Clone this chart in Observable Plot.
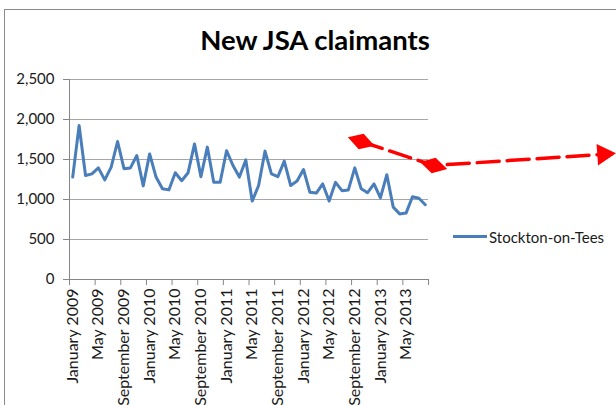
<!DOCTYPE html>
<html><head><meta charset="utf-8">
<script src="https://cdn.jsdelivr.net/npm/d3@7"></script>
<script src="https://cdn.jsdelivr.net/npm/@observablehq/plot@0.6"></script>
<style>
html,body{margin:0;padding:0;background:#fff;overflow:hidden;width:616px;height:405px;}
#wrap{position:relative;width:616px;height:405px;font-family:Lato,"Open Sans",sans-serif;}
#frame{position:absolute;left:4px;top:9px;width:700px;height:500px;border:1px solid #8a8a8a;box-sizing:border-box}
#title{position:absolute;left:0;width:630px;top:25px;text-align:center;font-weight:bold;font-size:27.5px;line-height:30px;color:#000}
#legline{position:absolute;left:453px;top:235px;width:34px;height:3px;background:#4a7ebb}
#legtext{position:absolute;left:489px;top:228px;font-size:15px;line-height:18px;color:#1a1a1a}
#chart{position:absolute;left:0;top:0}
</style></head>
<body><div id="wrap"><div id="frame"></div><div id="chart"></div><div id="title">New JSA claimants</div><div id="legline"></div><div id="legtext">Stockton-on-Tees</div></div>
<script>
// Monthly new JSA claimants, Stockton-on-Tees, January 2009 – August 2013
const values = [1280,1925,1300,1320,1395,1245,1405,1725,1385,1395,1550,1170,
                1570,1280,1135,1120,1335,1235,1335,1695,1285,1655,1215,1215,
                1610,1425,1280,1495,980,1175,1605,1320,1285,1480,1175,1230,
                1375,1090,1080,1195,980,1215,1110,1120,1395,1135,1085,1195,
                1020,1310,905,820,830,1035,1015,935];
const xTickLabels = ["January 2009","May 2009","September 2009","January 2010","May 2010","September 2010",
                     "January 2011","May 2011","September 2011","January 2012","May 2012","September 2012",
                     "January 2013","May 2013"];
const labelStep = 4;
const yTicks = [0,500,1000,1500,2000,2500];
const yTickLabels = ["0","500","1,000","1,500","2,000","2,500"];
// Red dashed annotation (in month-index / value space)
const arrowX = [45.5, 56.8, 84.6];
const arrowY = [1725, 1425, 1572];
const diamondRotate = [108, 104];
const headX = [83.3];
const headY = [1566];

const data = values.map((v, i) => ({i: i + 0.5, v}));
const arrow = arrowX.map((x, k) => ({x, y: arrowY[k]}));
const diamonds = arrow.slice(0, 2).map((d, k) => ({...d, r: diamondRotate[k]}));
const head = headX.map((x, k) => ({x, y: headY[k]}));
const n = values.length;

const chart = Plot.plot({
  width: 616, height: 405,
  marginLeft: 69, marginRight: 188, marginTop: 79, marginBottom: 126,
  x: {type: "linear", domain: [0, n]},
  y: {domain: [0, 2500]},
  style: {fontFamily: "Lato, sans-serif", fontSize: "15px", background: "transparent", overflow: "visible"},
  marks: [
    Plot.ruleY(yTicks.slice(1), {stroke: "#a6a6a6"}),
    Plot.axisY({ticks: yTicks, tickFormat: d => yTickLabels[yTicks.indexOf(d)], tickSize: 6, tickPadding: 9, label: null, stroke: "#868686", fill: "#1a1a1a", fontSize: 15}),
    Plot.axisX({ticks: d3.range(0, n + 1, labelStep), tickFormat: () => "", tickSize: 6, label: null, stroke: "#868686"}),
    Plot.axisX({ticks: xTickLabels.map((_, k) => k * labelStep + 0.5), tickFormat: d => xTickLabels[Math.round((d - 0.5) / labelStep)], tickSize: 0, tickPadding: 9, tickRotate: -90, label: null, fill: "#1a1a1a", fontSize: 16}),
    Plot.ruleX([0], {stroke: "#868686"}),
    Plot.ruleY([0], {stroke: "#868686"}),
    Plot.line(data, {x: "i", y: "v", stroke: "#4a7ebb", strokeWidth: 3, strokeLinejoin: "round"}),
    Plot.line(arrow, {x: "x", y: "y", stroke: "#ff0000", strokeWidth: 3.5, strokeDasharray: "22,8"}),
    Plot.dot(diamonds, {x: "x", y: "y", symbol: "diamond", r: 8.5, fill: "#ff0000", rotate: "r"}),
    Plot.dot(head, {x: "x", y: "y", symbol: "triangle", r: 8, fill: "#ff0000", rotate: 86})
  ]
});
document.getElementById("chart").appendChild(chart);
</script>
</body></html>
